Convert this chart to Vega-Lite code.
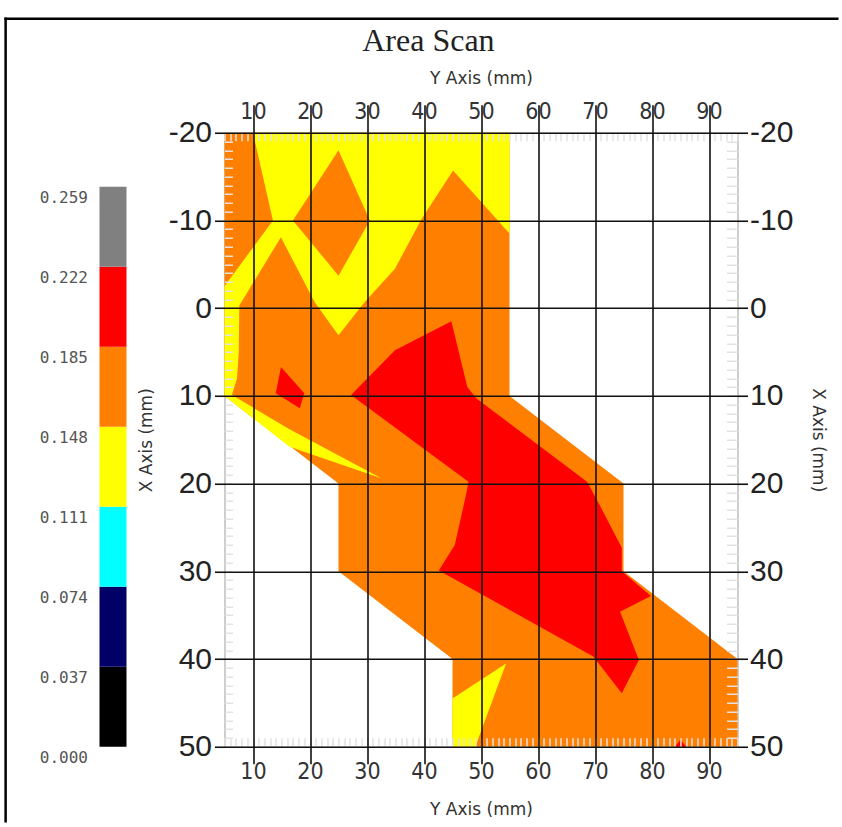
{
  "$schema": "https://vega.github.io/schema/vega-lite/v6.json",
  "padding": {"left": 2.5, "top": 15.75, "right": 0, "bottom": 0},
  "bounds": "flush",
  "spacing": 98,
  "title": {"text": "Area Scan", "font": "Liberation Serif", "fontSize": 32, "fontWeight": "normal", "color": "#222", "anchor": "middle", "dx": 7, "offset": -42},
  "config": {"view": {"stroke": null}},
  "datasets": {
    "bands": [
      {"band": "0.000", "lo": 0, "hi": 0.037},
      {"band": "0.037", "lo": 0.037, "hi": 0.074},
      {"band": "0.074", "lo": 0.074, "hi": 0.111},
      {"band": "0.111", "lo": 0.111, "hi": 0.148},
      {"band": "0.148", "lo": 0.148, "hi": 0.185},
      {"band": "0.185", "lo": 0.185, "hi": 0.222},
      {"band": "0.222", "lo": 0.222, "hi": 0.259}
    ],
    "polys": [
      {"pid": "b", "grp": 1, "band": "0.148", "i": 1, "ymm": 5, "xmm": -20},
      {"pid": "b", "grp": 1, "band": "0.148", "i": 2, "ymm": 55, "xmm": -20},
      {"pid": "b", "grp": 1, "band": "0.148", "i": 3, "ymm": 55, "xmm": 10},
      {"pid": "b", "grp": 1, "band": "0.148", "i": 4, "ymm": 75, "xmm": 20},
      {"pid": "b", "grp": 1, "band": "0.148", "i": 5, "ymm": 75, "xmm": 30},
      {"pid": "b", "grp": 1, "band": "0.148", "i": 6, "ymm": 95, "xmm": 40},
      {"pid": "b", "grp": 1, "band": "0.148", "i": 7, "ymm": 95, "xmm": 50},
      {"pid": "b", "grp": 1, "band": "0.148", "i": 8, "ymm": 45, "xmm": 50},
      {"pid": "b", "grp": 1, "band": "0.148", "i": 9, "ymm": 45, "xmm": 40},
      {"pid": "b", "grp": 1, "band": "0.148", "i": 10, "ymm": 25, "xmm": 30},
      {"pid": "b", "grp": 1, "band": "0.148", "i": 11, "ymm": 25, "xmm": 20},
      {"pid": "b", "grp": 1, "band": "0.148", "i": 12, "ymm": 5, "xmm": 10},

      {"pid": "y1", "grp": 2, "band": "0.111", "i": 1, "ymm": 10, "xmm": -20},
      {"pid": "y1", "grp": 2, "band": "0.111", "i": 2, "ymm": 55, "xmm": -20},
      {"pid": "y1", "grp": 2, "band": "0.111", "i": 3, "ymm": 55, "xmm": -8.5},
      {"pid": "y1", "grp": 2, "band": "0.111", "i": 4, "ymm": 45.1, "xmm": -15.7},
      {"pid": "y1", "grp": 2, "band": "0.111", "i": 5, "ymm": 39.6, "xmm": -10.2},
      {"pid": "y1", "grp": 2, "band": "0.111", "i": 6, "ymm": 34.9, "xmm": -4.5},
      {"pid": "y1", "grp": 2, "band": "0.111", "i": 7, "ymm": 29.6, "xmm": -0.7},
      {"pid": "y1", "grp": 2, "band": "0.111", "i": 8, "ymm": 25, "xmm": 3.1},
      {"pid": "y1", "grp": 2, "band": "0.111", "i": 9, "ymm": 20.8, "xmm": -0.7},
      {"pid": "y1", "grp": 2, "band": "0.111", "i": 10, "ymm": 14.9, "xmm": -8.1},
      {"pid": "y1", "grp": 2, "band": "0.111", "i": 11, "ymm": 7.6, "xmm": -0.3},
      {"pid": "y1", "grp": 2, "band": "0.111", "i": 12, "ymm": 7.5, "xmm": 5},
      {"pid": "y1", "grp": 2, "band": "0.111", "i": 13, "ymm": 7.2, "xmm": 8},
      {"pid": "y1", "grp": 2, "band": "0.111", "i": 14, "ymm": 6.3, "xmm": 9.9},
      {"pid": "y1", "grp": 2, "band": "0.111", "i": 15, "ymm": 16.4, "xmm": 13.8},
      {"pid": "y1", "grp": 2, "band": "0.111", "i": 16, "ymm": 32.5, "xmm": 19.4},
      {"pid": "y1", "grp": 2, "band": "0.111", "i": 17, "ymm": 16.4, "xmm": 15.8},
      {"pid": "y1", "grp": 2, "band": "0.111", "i": 18, "ymm": 5, "xmm": 10},
      {"pid": "y1", "grp": 2, "band": "0.111", "i": 19, "ymm": 5, "xmm": -2.5},
      {"pid": "y1", "grp": 2, "band": "0.111", "i": 20, "ymm": 13.5, "xmm": -10},

      {"pid": "y2", "grp": 2, "band": "0.111", "i": 1, "ymm": 45, "xmm": 44.5},
      {"pid": "y2", "grp": 2, "band": "0.111", "i": 2, "ymm": 54.4, "xmm": 40.5},
      {"pid": "y2", "grp": 2, "band": "0.111", "i": 3, "ymm": 49, "xmm": 50},
      {"pid": "y2", "grp": 2, "band": "0.111", "i": 4, "ymm": 45, "xmm": 50},

      {"pid": "d", "grp": 3, "band": "0.148", "i": 1, "ymm": 25, "xmm": -18},
      {"pid": "d", "grp": 3, "band": "0.148", "i": 2, "ymm": 30.5, "xmm": -10},
      {"pid": "d", "grp": 3, "band": "0.148", "i": 3, "ymm": 25, "xmm": -3.7},
      {"pid": "d", "grp": 3, "band": "0.148", "i": 4, "ymm": 17, "xmm": -10},

      {"pid": "r1", "grp": 4, "band": "0.185", "i": 1, "ymm": 14.9, "xmm": 6.7},
      {"pid": "r1", "grp": 4, "band": "0.185", "i": 2, "ymm": 19, "xmm": 9.7},
      {"pid": "r1", "grp": 4, "band": "0.185", "i": 3, "ymm": 18.2, "xmm": 11.4},
      {"pid": "r1", "grp": 4, "band": "0.185", "i": 4, "ymm": 14, "xmm": 9.7},

      {"pid": "r2", "grp": 4, "band": "0.185", "i": 1, "ymm": 27.2, "xmm": 9.9},
      {"pid": "r2", "grp": 4, "band": "0.185", "i": 2, "ymm": 34.9, "xmm": 4.8},
      {"pid": "r2", "grp": 4, "band": "0.185", "i": 3, "ymm": 44.8, "xmm": 1.5},
      {"pid": "r2", "grp": 4, "band": "0.185", "i": 4, "ymm": 47.6, "xmm": 9.0},
      {"pid": "r2", "grp": 4, "band": "0.185", "i": 5, "ymm": 49.2, "xmm": 10.3},
      {"pid": "r2", "grp": 4, "band": "0.185", "i": 6, "ymm": 68.6, "xmm": 19.8},
      {"pid": "r2", "grp": 4, "band": "0.185", "i": 7, "ymm": 70.3, "xmm": 21.8},
      {"pid": "r2", "grp": 4, "band": "0.185", "i": 8, "ymm": 74.7, "xmm": 27.3},
      {"pid": "r2", "grp": 4, "band": "0.185", "i": 9, "ymm": 74.7, "xmm": 30},
      {"pid": "r2", "grp": 4, "band": "0.185", "i": 10, "ymm": 79.8, "xmm": 32.8},
      {"pid": "r2", "grp": 4, "band": "0.185", "i": 11, "ymm": 74.4, "xmm": 34.6},
      {"pid": "r2", "grp": 4, "band": "0.185", "i": 12, "ymm": 77.7, "xmm": 40.1},
      {"pid": "r2", "grp": 4, "band": "0.185", "i": 13, "ymm": 74.7, "xmm": 43.9},
      {"pid": "r2", "grp": 4, "band": "0.185", "i": 14, "ymm": 69.7, "xmm": 39.7},
      {"pid": "r2", "grp": 4, "band": "0.185", "i": 15, "ymm": 42.6, "xmm": 29.9},
      {"pid": "r2", "grp": 4, "band": "0.185", "i": 16, "ymm": 45.4, "xmm": 27},
      {"pid": "r2", "grp": 4, "band": "0.185", "i": 17, "ymm": 47.5, "xmm": 20.9},
      {"pid": "r2", "grp": 4, "band": "0.185", "i": 18, "ymm": 47.8, "xmm": 19.8},

      {"pid": "r3", "grp": 4, "band": "0.185", "i": 1, "ymm": 84, "xmm": 50},
      {"pid": "r3", "grp": 4, "band": "0.185", "i": 2, "ymm": 85, "xmm": 49.2},
      {"pid": "r3", "grp": 4, "band": "0.185", "i": 3, "ymm": 86, "xmm": 50}
    ],
    "frame": [{"k": 1}]
  },
  "hconcat": [
    {
      "width": 27,
      "height": 614,
      "data": {"name": "bands"},
      "mark": {"type": "rect"},
      "encoding": {
        "y": {
          "field": "lo", "type": "quantitative",
          "scale": {"domain": [0, 0.28397], "nice": false, "zero": false},
          "axis": {
            "orient": "left", "values": [0, 0.037, 0.074, 0.111, 0.148, 0.185, 0.222, 0.259],
            "format": ".3f", "title": null, "domain": false, "ticks": false, "grid": false,
            "labelFont": "DejaVu Sans Mono", "labelFontSize": 16, "labelColor": "#555",
            "labelPadding": 12, "labelOffset": 10.5, "labelBaseline": "middle", "labelOverlap": false
          }
        },
        "y2": {"field": "hi"},
        "fill": {
          "field": "band", "type": "nominal", "legend": null,
          "scale": {"domain": ["0.000", "0.037", "0.074", "0.111", "0.148", "0.185", "0.222"], "range": ["#000000", "#000066", "#00ffff", "#ffff00", "#ff8000", "#ff0000", "#808080"]}
        }
      }
    },
    {
      "width": 513,
      "height": 614,
      "view": {"stroke": "#9a9a9a", "strokeWidth": 1},
      "resolve": {"scale": {"x": "independent", "y": "independent"}},
      "layer": [
        {
          "layer": [
            {
              "data": {"name": "polys"},
              "transform": [{"filter": "datum.grp == 1"}],
              "mark": {"type": "line", "strokeWidth": 0, "strokeOpacity": 0},
              "encoding": {
                "x": {
                  "field": "ymm", "type": "quantitative",
                  "scale": {"domain": [5, 95], "nice": false, "zero": false},
                  "axis": {
                    "orient": "bottom", "values": [10, 20, 30, 40, 50, 60, 70, 80, 90],
                    "title": "Y Axis (mm)", "grid": true, "gridColor": "#111", "gridWidth": 1.6, "gridOpacity": 1,
                    "tickColor": "#111", "tickWidth": 1.6, "tickSize": 17, "domain": false,
                    "labelFont": "Liberation Sans Narrow, DejaVu Sans Condensed, sans-serif", "labelFontSize": 23, "labelColor": "#333",
                    "labelPadding": -3, "labelOverlap": false, "labelFlush": false,
                    "titleFont": "DejaVu Sans", "titleFontSize": 17, "titleFontWeight": "normal", "titleColor": "#333",
                    "titleY": 63, "titleBaseline": "middle", "zindex": 2
                  }
                },
                "y": {
                  "field": "xmm", "type": "quantitative",
                  "scale": {"domain": [-20, 50], "reverse": true, "nice": false, "zero": false},
                  "axis": {
                    "orient": "left", "values": [-20, -10, 0, 10, 20, 30, 40, 50],
                    "title": "X Axis (mm)", "grid": true, "gridColor": "#111", "gridWidth": 1.6, "gridOpacity": 1,
                    "tickColor": "#111", "tickWidth": 1.6, "tickSize": 10, "domain": false,
                    "labelFont": "Liberation Sans", "labelFontSize": 30, "labelColor": "#222",
                    "labelPadding": 3, "labelOverlap": false, "labelExpr": "'' + datum.value",
                    "titleFont": "DejaVu Sans", "titleFontSize": 17, "titleFontWeight": "normal", "titleColor": "#333",
                    "titleX": -78, "titleBaseline": "middle", "zindex": 2
                  }
                },
                "order": {"field": "i", "type": "quantitative"},
                "detail": {"field": "pid"},
                "fill": {
                  "field": "band", "type": "nominal", "legend": null,
                  "scale": {"domain": ["0.000", "0.037", "0.074", "0.111", "0.148", "0.185", "0.222"], "range": ["#000000", "#000066", "#00ffff", "#ffff00", "#ff8000", "#ff0000", "#808080"]}
                }
              }
            },
            {
              "data": {"name": "polys"},
              "transform": [{"filter": "datum.grp == 2"}],
              "mark": {"type": "line", "strokeWidth": 0, "strokeOpacity": 0},
              "encoding": {
                "x": {
                  "field": "ymm", "type": "quantitative",
                  "scale": {"domain": [5, 95], "nice": false, "zero": false},
                  "axis": {
                    "orient": "top", "values": [10, 20, 30, 40, 50, 60, 70, 80, 90],
                    "title": "Y Axis (mm)", "grid": false,
                    "tickColor": "#111", "tickWidth": 1.6, "tickSize": 28, "domain": false,
                    "labelFont": "Liberation Sans Narrow, DejaVu Sans Condensed, sans-serif", "labelFontSize": 23, "labelColor": "#333",
                    "labelPadding": -19, "labelOverlap": false, "labelFlush": false,
                    "titleFont": "DejaVu Sans", "titleFontSize": 17, "titleFontWeight": "normal", "titleColor": "#333",
                    "titleY": -54, "titleBaseline": "middle", "zindex": 2
                  }
                },
                "y": {
                  "field": "xmm", "type": "quantitative",
                  "scale": {"domain": [-20, 50], "reverse": true, "nice": false, "zero": false},
                  "axis": {
                    "orient": "right", "values": [-20, -10, 0, 10, 20, 30, 40, 50],
                    "title": "X Axis (mm)", "grid": false,
                    "tickColor": "#111", "tickWidth": 1.6, "tickSize": 10, "domain": false,
                    "labelFont": "Liberation Sans", "labelFontSize": 30, "labelColor": "#222",
                    "labelPadding": 2, "labelOverlap": false, "labelExpr": "'' + datum.value",
                    "titleFont": "DejaVu Sans", "titleFontSize": 17, "titleFontWeight": "normal", "titleColor": "#333",
                    "titleX": 80, "titleBaseline": "middle", "zindex": 2
                  }
                },
                "order": {"field": "i", "type": "quantitative"},
                "detail": {"field": "pid"},
                "fill": {
                  "field": "band", "type": "nominal", "legend": null,
                  "scale": {"domain": ["0.000", "0.037", "0.074", "0.111", "0.148", "0.185", "0.222"], "range": ["#000000", "#000066", "#00ffff", "#ffff00", "#ff8000", "#ff0000", "#808080"]}
                }
              }
            },
            {
              "data": {"name": "polys"},
              "transform": [{"filter": "datum.grp == 3"}],
              "mark": {"type": "line", "strokeWidth": 0, "strokeOpacity": 0},
              "encoding": {
                "x": {"field": "ymm", "type": "quantitative", "axis": null},
                "y": {"field": "xmm", "type": "quantitative", "axis": null},
                "order": {"field": "i", "type": "quantitative"},
                "detail": {"field": "pid"},
                "fill": {
                  "field": "band", "type": "nominal", "legend": null,
                  "scale": {"domain": ["0.000", "0.037", "0.074", "0.111", "0.148", "0.185", "0.222"], "range": ["#000000", "#000066", "#00ffff", "#ffff00", "#ff8000", "#ff0000", "#808080"]}
                }
              }
            },
            {
              "data": {"name": "polys"},
              "transform": [{"filter": "datum.grp == 4"}],
              "mark": {"type": "line", "strokeWidth": 0, "strokeOpacity": 0},
              "encoding": {
                "x": {"field": "ymm", "type": "quantitative", "axis": null},
                "y": {"field": "xmm", "type": "quantitative", "axis": null},
                "order": {"field": "i", "type": "quantitative"},
                "detail": {"field": "pid"},
                "fill": {
                  "field": "band", "type": "nominal", "legend": null,
                  "scale": {"domain": ["0.000", "0.037", "0.074", "0.111", "0.148", "0.185", "0.222"], "range": ["#000000", "#000066", "#00ffff", "#ffff00", "#ff8000", "#ff0000", "#808080"]}
                }
              }
            }
          ]
        },
        {
          "layer": [
            {
              "data": {"name": "frame"},
              "mark": {"type": "rule", "color": "#000", "strokeWidth": 2.5, "strokeCap": "square"},
              "encoding": {
                "x": {
                  "datum": -33.4, "type": "quantitative",
                  "scale": {"domain": [5, 95], "nice": false, "zero": false},
                  "axis": {"orient": "bottom", "tickCount": 90, "labels": false, "domain": false, "grid": false, "title": null, "tickSize": -9, "tickColor": "#e2e2e2", "tickWidth": 1.5, "zindex": 1}
                },
                "x2": {"datum": 112.5},
                "y": {
                  "datum": -33.0, "type": "quantitative",
                  "scale": {"domain": [-20, 50], "reverse": true, "nice": false, "zero": false},
                  "axis": {"orient": "left", "tickCount": 70, "labels": false, "domain": false, "grid": false, "title": null, "tickSize": -8, "tickColor": "#e2e2e2", "tickWidth": 1.5, "zindex": 1}
                }
              }
            },
            {
              "data": {"name": "frame"},
              "mark": {"type": "rule", "color": "#000", "strokeWidth": 2.5, "strokeCap": "square"},
              "encoding": {
                "x": {
                  "datum": -33.4, "type": "quantitative",
                  "scale": {"domain": [5, 95], "nice": false, "zero": false},
                  "axis": {"orient": "top", "tickCount": 90, "labels": false, "domain": false, "grid": false, "title": null, "tickSize": -8, "tickColor": "#e2e2e2", "tickWidth": 1.5, "zindex": 1}
                },
                "y": {
                  "datum": -33.0, "type": "quantitative",
                  "scale": {"domain": [-20, 50], "reverse": true, "nice": false, "zero": false},
                  "axis": {"orient": "right", "tickCount": 70, "labels": false, "domain": false, "grid": false, "title": null, "tickSize": -11, "tickColor": "#e2e2e2", "tickWidth": 1.5, "zindex": 1}
                },
                "y2": {"datum": 58.5}
              }
            }
          ]
        }
      ]
    }
  ]
}
